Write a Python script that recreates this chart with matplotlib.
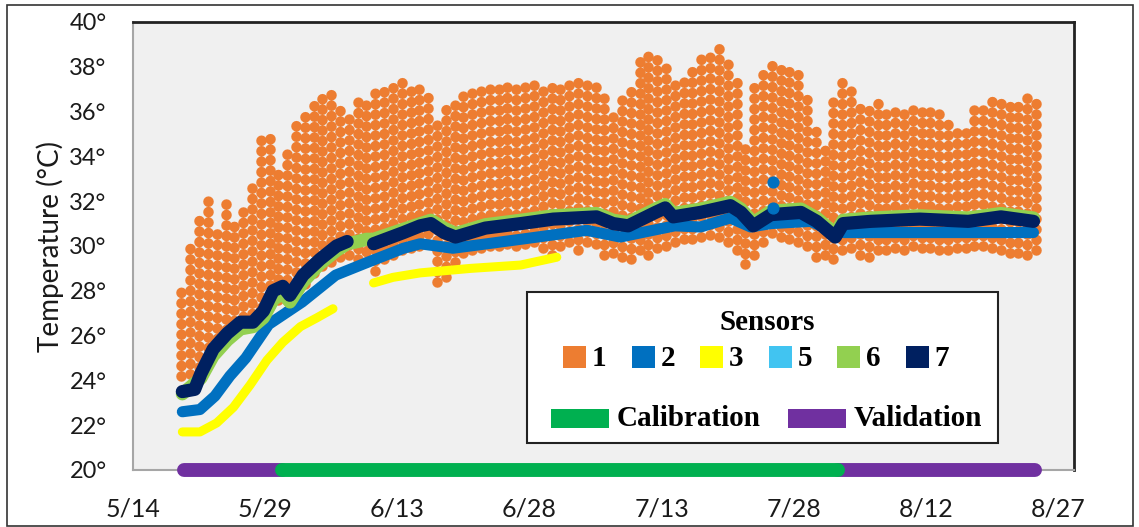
import matplotlib.pyplot as plt
from matplotlib.patches import Rectangle
import numpy as np

W, H = 1139, 527

# days are counted from 5/14
tick_days = [0, 15, 30, 45, 60, 75, 90, 105]
tick_labels = ["5/14", "5/29", "6/13", "6/28", "7/13", "7/28", "8/12", "8/27"]
temp_ticks = list(range(20, 41, 2))

# sensor 1: daily minimum and maximum readings, 5/19 .. 8/24
s1_day = np.arange(5, 103)
s1_max = [28.2, 30.3, 31.2, 32.4, 31.0, 32.3, 31.0, 31.5, 32.6, 34.8,
          35.0, 33.4, 34.4, 35.6, 36.0, 36.3, 36.7, 36.8, 36.4, 36.1,
          36.8, 36.7, 36.9, 37.0, 37.1, 37.3, 37.3, 37.2, 36.8, 35.6,
          36.1, 36.7, 37.0, 37.1, 37.0, 37.1, 37.2, 37.4, 37.3, 37.5,
          37.4, 37.3, 37.3, 37.4, 37.3, 37.3, 37.2, 37.3, 36.6, 35.8,
          36.6, 37.1, 38.4, 38.6, 38.7, 38.3, 37.3, 37.6, 38.2, 38.7,
          38.6, 39.0, 38.3, 37.5, 34.7, 37.3, 38.0, 38.5, 38.3, 38.0,
          37.7, 36.6, 35.2, 34.7, 36.8, 37.7, 37.2, 36.2, 36.1, 36.4,
          36.3, 36.4, 36.2, 36.1, 36.0, 36.1, 35.9, 35.7, 35.4, 35.3,
          36.2, 36.5, 36.8, 36.7, 36.6, 36.5, 36.7, 36.4]
s1_min = [24.2, 24.3, 24.6, 25.0, 25.4, 25.8, 26.2, 26.4, 26.5, 26.8,
          27.3, 27.6, 27.1, 27.9, 28.3, 28.8, 29.1, 29.3, 29.5, 29.6,
          29.4, 29.3, 28.9, 29.4, 29.6, 29.8, 29.9, 30.0, 30.1, 28.4,
          28.6, 29.3, 29.7, 29.8, 29.9, 30.0, 30.0, 30.1, 30.0, 30.1,
          30.2, 29.9, 29.6, 30.0, 30.2, 29.8, 30.2, 30.1, 29.6, 29.7,
          29.5, 29.4, 29.8, 29.6, 29.9, 30.0, 30.2, 30.3, 30.3, 30.4,
          30.5, 30.4, 30.2, 29.8, 29.2, 29.6, 30.2, 30.6, 30.4, 30.3,
          30.2, 30.0, 29.5, 29.6, 29.4, 29.8, 29.9, 29.6, 29.5, 29.8,
          29.8, 29.9, 29.8, 30.0, 29.9, 29.9, 29.8, 29.8, 29.9, 29.9,
          30.0, 30.0, 29.9, 29.8, 29.7, 29.7, 29.6, 29.8]

# sensor 2
s2_day = [5.6, 7.6, 9.3, 11.0, 12.8, 15.4, 19.2, 23.0, 26.8, 30.7, 32.6, 36.3, 40.2,
          45.9, 51.5, 55.3, 59.0, 61.5, 64.4, 67.8, 70.1, 72.4, 76.9, 79.2, 80.7, 89.3, 102.2]
s2_temp = [22.6, 22.7, 23.3, 24.2, 25.0, 26.5, 27.5, 28.7, 29.3, 29.9, 30.1, 29.9, 30.1,
           30.4, 30.7, 30.4, 30.7, 30.9, 30.85, 31.25, 30.85, 31.0, 31.1, 30.7, 30.6, 30.6, 30.6]
s2_spike_day = [72.6, 72.6]
s2_spike_temp = [32.85, 31.7]

# sensor 3 (two recording periods)
s3a_day = [5.6, 7.6, 9.5, 11.4, 13.3, 15.2, 17.0, 19.0, 20.9, 22.7]
s3a_temp = [21.7, 21.7, 22.1, 22.8, 23.8, 24.9, 25.7, 26.4, 26.8, 27.2]
s3b_day = [27.3, 29.5, 32.6, 38.3, 44.0, 48.1]
s3b_temp = [28.35, 28.6, 28.8, 29.0, 29.15, 29.5]

# sensor 5 (runs underneath sensor 2)
s5_day = [5.6, 7.6, 9.3, 11.0, 12.8, 15.4, 19.2, 23.0, 26.8, 30.7, 32.6, 36.3, 40.2,
          45.9, 51.5, 55.3, 59.0, 61.5, 64.4, 67.8, 70.1, 72.4, 76.9, 79.2, 80.7, 89.3, 102.2]
s5_temp = [22.6, 22.7, 23.3, 24.2, 25.0, 26.5, 27.5, 28.7, 29.3, 29.9, 30.1, 29.9, 30.1,
           30.4, 30.7, 30.4, 30.7, 30.9, 30.8, 31.2, 30.8, 31.0, 31.1, 30.7, 30.6, 30.6, 30.6]

# sensor 6
s6_day = [5.6, 7.7, 9.1, 10.7, 12.2, 13.6, 14.8, 15.9, 17.0, 17.8, 19.3, 21.2, 23.1,
          24.3, 25.5, 26.5, 27.3, 30.7, 33.8, 35.3, 36.6, 40.0, 44.0, 47.7, 52.6, 54.5,
          56.2, 59.3, 60.4, 61.3, 64.4, 67.8, 69.0, 70.4, 72.4, 75.8, 77.6, 79.7, 80.6,
          83.7, 89.3, 94.8, 98.5, 102.2]
s6_temp = [23.4, 24.1, 25.1, 25.8, 26.3, 26.4, 26.8, 27.6, 27.9, 27.5, 28.4, 29.2, 29.8,
           30.1, 30.2, 30.3, 30.3, 30.75, 31.15, 30.8, 30.55, 30.95, 31.15, 31.35, 31.45, 31.15,
           31.05, 31.65, 31.85, 31.45, 31.65, 31.95, 31.65, 31.05, 31.55, 31.65, 31.25, 30.55, 31.15,
           31.25, 31.35, 31.25, 31.45, 31.25]

# sensor 7 (gap around 6/7 - 6/10)
s7a_day = [5.6, 7.0, 7.7, 9.1, 10.7, 12.2, 13.6, 14.8, 15.9, 17.0, 17.8, 19.3, 21.2, 23.1, 24.3]
s7a_temp = [23.5, 23.6, 24.3, 25.4, 26.1, 26.6, 26.6, 27.1, 28.0, 28.2, 27.8, 28.7, 29.4, 30.0, 30.2]
s7b_day = [27.3, 30.7, 32.6, 33.8, 35.3, 36.6, 40.0, 44.0, 47.7, 52.6, 54.5, 56.2, 59.3,
           60.4, 61.3, 64.4, 67.8, 69.0, 70.4, 72.4, 75.8, 77.6, 79.1, 79.7, 80.6, 83.7,
           89.3, 94.8, 98.5, 102.2]
s7b_temp = [30.1, 30.6, 30.9, 31.0, 30.6, 30.4, 30.8, 31.0, 31.2, 31.3, 31.0, 30.9, 31.5,
            31.7, 31.3, 31.5, 31.8, 31.5, 30.9, 31.4, 31.5, 31.1, 30.6, 30.4, 31.0, 31.1,
            31.2, 31.1, 31.3, 31.1]

# model periods
validation_periods = [(5.8, 16.9), (80.0, 102.4)]
calibration_period = (16.9, 80.0)

c1, c2, c3, c5, c6, c7 = "#ED7D31", "#0070C0", "#FFFF00", "#41C4F1", "#92D050", "#002060"
c_cal, c_val = "#00B050", "#7030A0"

plt.rcParams["font.family"] = ["Lato", "DejaVu Sans"]

fig = plt.figure(figsize=(W / 100, H / 100), dpi=100)
ax = fig.add_axes([133 / W, (H - 470) / H, (1074 - 133) / W, (470 - 22) / H])
ax.set_facecolor("#F0F0F0")

# sensor 1: each day's readings as a column of dots
ax.vlines(s1_day + 0.5, s1_min, s1_max, colors=c1, linewidth=7.6,
          linestyles=(0, (0.01, 0.98)), capstyle="round", zorder=2)

ax.plot(s5_day, s5_temp, color=c5, lw=5, solid_capstyle="round", zorder=3)
ax.plot(s2_day, s2_temp, color=c2, lw=8, solid_capstyle="round", zorder=4)
ax.plot(s3a_day, s3a_temp, color=c3, lw=6.5, solid_capstyle="round", zorder=4)
ax.plot(s3b_day, s3b_temp, color=c3, lw=6.5, solid_capstyle="round", zorder=4)
ax.plot(s6_day, s6_temp, color=c6, lw=9.5, solid_capstyle="round", zorder=5)
ax.plot(s7a_day, s7a_temp, color=c7, lw=9.5, solid_capstyle="round", zorder=6)
ax.plot(s7b_day, s7b_temp, color=c7, lw=9.5, solid_capstyle="round", zorder=6)
ax.scatter(s2_spike_day, s2_spike_temp, s=60, color=c2, zorder=7)

# calibration / validation bars along the bottom
for start, end in validation_periods:
    ax.plot([start, end], [20, 20], color=c_val, lw=10, solid_capstyle="round",
            clip_on=False, zorder=8)
ax.plot(list(calibration_period), [20, 20], color=c_cal, lw=10,
        solid_capstyle="round", clip_on=False, zorder=9)

ax.set_xlim(0, 106.8)
ax.set_ylim(20, 40)
ax.set_xticks(tick_days)
ax.set_xticklabels(tick_labels)
ax.set_yticks(temp_ticks)
ax.set_yticklabels([f"{t}°" for t in temp_ticks])
ax.tick_params(axis="both", length=0, labelsize=17, colors="#1a1a1a")
ax.tick_params(axis="x", labelsize=18, pad=20)
ax.tick_params(axis="y", pad=19)
ax.set_ylabel("Temperature (°C)", fontsize=20, labelpad=4, color="#1a1a1a")

for side in ["top", "right"]:
    ax.spines[side].set_color("#222222")
    ax.spines[side].set_linewidth(2.0)
for side in ["left", "bottom"]:
    ax.spines[side].set_color("#A6A6A6")
    ax.spines[side].set_linewidth(1.5)


def px(x, y):
    return x / W, 1 - y / H


# legend box
lx, ly = px(527, 443)
fig.add_artist(Rectangle((lx, ly), (998 - 527) / W, (443 - 292) / H, facecolor="white",
                         edgecolor="#222222", lw=1.5, zorder=10))
serif = dict(family="Liberation Serif", weight="bold", fontsize=21, zorder=11)
fig.text(*px(767, 323), "Sensors", ha="center", va="center", **serif)

sensor_names = ["1", "2", "3", "5", "6", "7"]
sensor_colors = [c1, c2, c3, c5, c6, c7]
for i, (name, col) in enumerate(zip(sensor_names, sensor_colors)):
    x0 = 563 + i * 68.5
    fig.add_artist(Rectangle(px(x0, 368), 23 / W, 22 / H, facecolor=col,
                             edgecolor="none", zorder=11))
    fig.text(*px(x0 + 29, 358), name, ha="left", va="center", **serif)

for x0, col, name in [(551, c_cal, "Calibration"), (788, c_val, "Validation")]:
    fig.add_artist(Rectangle(px(x0, 428), 58 / W, 19 / H, facecolor=col,
                             edgecolor="none", zorder=11))
    fig.text(*px(x0 + 66, 419), name, ha="left", va="center", **serif)

# outer frame
fig.add_artist(Rectangle(px(7, 526), (1133 - 7) / W, (526 - 5) / H, fill=False,
                         edgecolor="#333333", lw=1.2, zorder=12))

fig.savefig("out.png", dpi=100)
